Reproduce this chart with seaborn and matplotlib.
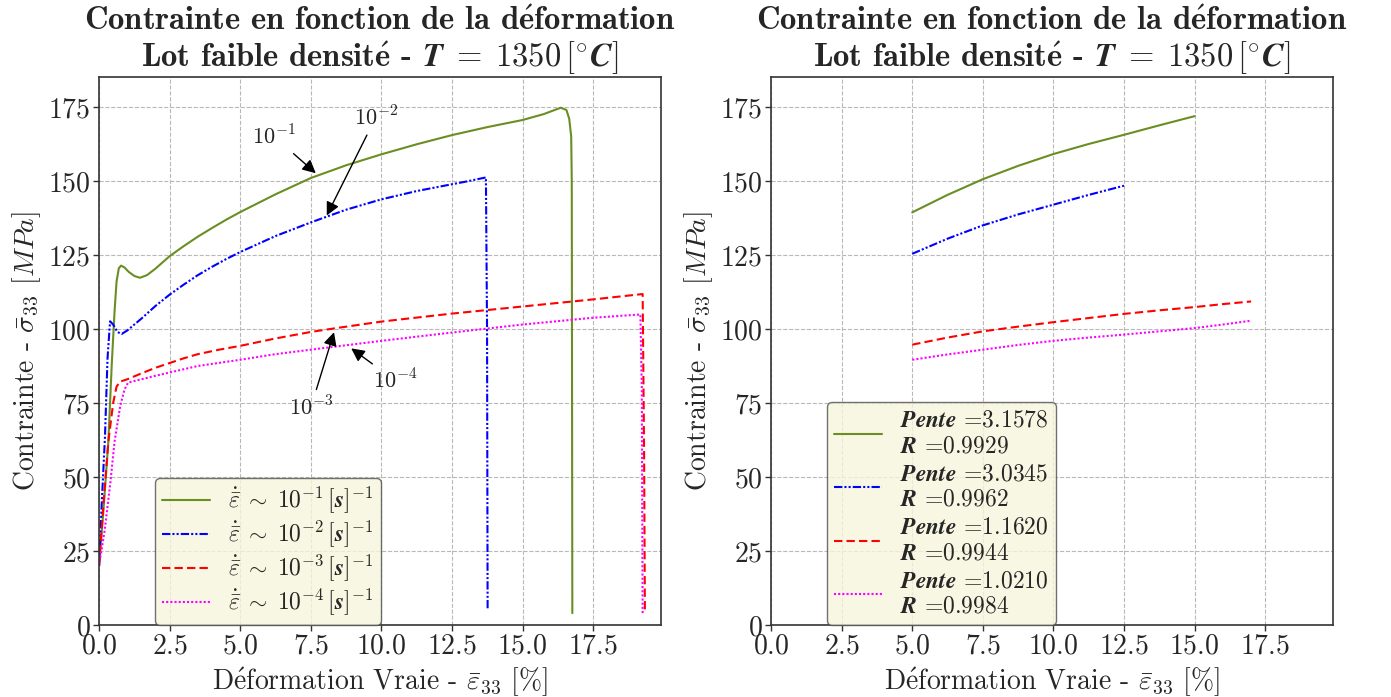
import numpy as np
import pandas as pd
import matplotlib
matplotlib.use("Agg")
import matplotlib.pyplot as plt
import seaborn as sns

# -------------------------
# Data
# -------------------------
# left panel: full stress-strain curves
x_r1 = [0, 0.15, 0.33, 0.45, 0.55, 0.62, 0.7, 0.78, 0.9, 1.05, 1.25, 1.45, 1.7, 2.0, 2.5, 3.0,
        3.5, 4.0, 4.5, 5, 6.25, 7.5, 8.75, 10, 11.25, 12.5, 13.75, 15, 15.75, 16.35, 16.55,
        16.65, 16.72, 16.74, 16.76]
y_r1 = [20, 38, 62, 88, 106, 116, 120.5, 121.4, 120.8, 119.3, 117.9, 117.3, 118.2, 120.4, 124.6,
        128.0, 131.2, 134.1, 136.9, 139.5, 145.5, 151, 155.3, 159, 162.4, 165.5, 168.2, 170.6,
        172.6, 174.75, 174, 171, 165, 150, 4]

x_r2 = [0, 0.1, 0.21, 0.3, 0.39, 0.5, 0.65, 0.8, 1.0, 1.5, 2.0, 2.5, 3.0, 3.5, 4.0, 4.5, 5,
        6.25, 7.5, 8.75, 10, 11.25, 12.5, 13.0, 13.7, 13.74, 13.76]
y_r2 = [20, 42, 63.6, 90, 102.6, 101.5, 99, 98.3, 99.5, 103.5, 107.8, 111.6, 115.0, 118.2, 121.0,
        123.6, 126, 131.4, 136, 140.3, 143.8, 146.6, 148.9, 149.8, 151.2, 100, 5]

x_r3 = [0, 0.15, 0.33, 0.5, 0.62, 0.74, 1.0, 1.5, 2.0, 2.5, 3.0, 3.5, 4.25, 5, 6.25, 7.5, 8.4,
        10, 12.5, 15, 17.5, 19.25, 19.3, 19.33]
y_r3 = [20, 40, 62, 75, 80.5, 82.2, 83, 85, 86.9, 88.5, 90.1, 91.5, 93.0, 94.3, 96.8, 99, 100.3,
        102.5, 105.2, 107.6, 110, 111.8, 60, 4]

x_r4 = [0, 0.2, 0.4, 0.55, 0.75, 0.9, 1.03, 1.5, 2.0, 2.5, 3.5, 5, 6.25, 7.5, 10, 12.5, 15,
        17.5, 19.17, 19.22, 19.25]
y_r4 = [20, 32, 48, 62, 74, 79.5, 81.9, 83, 84.2, 85.3, 87.5, 89.6, 91.5, 93, 96, 98.8, 101.5,
        103.8, 104.9, 80, 4]

# right panel: fitted portions
xf_r1 = [5, 6.25, 7.5, 8.75, 10, 11.25, 12.5, 13.75, 15]
yf_r1 = [139.4, 145.3, 150.6, 155.1, 159.1, 162.5, 165.6, 168.8, 171.9]
xf_r2 = [5, 6.25, 7.5, 8.75, 10, 11.25, 12.5]
yf_r2 = [125.4, 130.5, 135.0, 138.7, 142.0, 145.3, 148.4]
xf_r3 = [5, 6.25, 7.5, 8.75, 10, 11.25, 12.5, 13.75, 15, 16, 17]
yf_r3 = [94.7, 97.1, 99.2, 100.8, 102.3, 103.7, 105.1, 106.3, 107.4, 108.4, 109.3]
xf_r4 = [5, 6.25, 7.5, 8.75, 10, 11.25, 12.5, 13.75, 15, 16, 17]
yf_r4 = [89.6, 91.4, 93.0, 94.6, 96.0, 97.1, 98.1, 99.2, 100.3, 101.5, 102.8]

rates = ["-1", "-2", "-3", "-4"]
pentes = ["3.1578", "3.0345", "1.1620", "1.0210"]
r_vals = ["0.9929", "0.9962", "0.9944", "0.9984"]

colors = ["olivedrab", "blue", "red", "magenta"]
styles = ["-", (0, (4, 1, 1, 1, 1, 1)), (0, (4, 2)), (0, (1, 1))]

# -------------------------
# Style
# -------------------------
sns.set_style("whitegrid", {"grid.linestyle": "--", "grid.color": "#b8b8b8",
                            "axes.edgecolor": "0.2", "xtick.bottom": True, "ytick.left": True})
plt.rcParams["font.family"] = ["cmr10", "DejaVu Serif"]
plt.rcParams["mathtext.fontset"] = "cm"
plt.rcParams["axes.formatter.use_mathtext"] = True
plt.rcParams["axes.unicode_minus"] = False

fig = plt.figure(figsize=(13.91, 6.97), dpi=100)
ax1 = fig.add_axes([0.0712, 0.1033, 0.404, 0.7857])
ax2 = fig.add_axes([0.5543, 0.1033, 0.404, 0.7857])

# é drawn through mathtext accents (cmr10 has no é glyph)
title = (r"Contrainte en fonction de la d$\mathbf{\acute{e}}$formation" "\n"
         r"Lot faible densit$\mathbf{\acute{e}}$ - "
         r"$\boldsymbol{T}\;\mathbf{=}\;\mathbf{1350\,[^{\circ}}\boldsymbol{C}\mathbf{]}$")
xlab = r"D$\mathrm{\acute{e}}$formation Vraie - $\bar{\varepsilon}_{33}$ $[\%]$"
ylab = r"Contrainte - $\bar{\sigma}_{33}$ $[MPa]$"

left_sets = [(x_r1, y_r1), (x_r2, y_r2), (x_r3, y_r3), (x_r4, y_r4)]
for (xs, ys), c, ls, r in zip(left_sets, colors, styles, rates):
    lab = (r"$\boldsymbol{\dot{\bar{\varepsilon}}}\;\mathbf{\sim}\;\mathbf{10^{%s}\,[}"
           r"\boldsymbol{s}\mathbf{]^{-1}}$" % r)
    sns.lineplot(x=xs, y=ys, ax=ax1, color=c, linestyle=ls, lw=1.5,
                 sort=False, estimator=None, label=lab)

right_sets = [(xf_r1, yf_r1), (xf_r2, yf_r2), (xf_r3, yf_r3), (xf_r4, yf_r4)]
for (xs, ys), c, ls, p, rv in zip(right_sets, colors, styles, pentes, r_vals):
    lab = r"$\boldsymbol{Pente}$ =" + p + "\n" + r"$\boldsymbol{R}$ =" + rv
    sns.lineplot(x=xs, y=ys, ax=ax2, color=c, linestyle=ls, lw=1.5,
                 sort=False, estimator=None, label=lab)

# annotations on the left panel
arrow = dict(arrowstyle="-|>", color="black", lw=1.0, mutation_scale=20)
ax1.annotate(r"$10^{-1}$", xy=(7.75, 152), xytext=(6.2, 165), fontsize=16,
             ha="center", va="center", arrowprops=arrow)
ax1.annotate(r"$10^{-2}$", xy=(8.02, 137.5), xytext=(9.8, 171.5), fontsize=16,
             ha="center", va="center", arrowprops=arrow)
ax1.annotate(r"$10^{-3}$", xy=(8.35, 99.8), xytext=(7.5, 73.5), fontsize=16,
             ha="center", va="center", arrowprops=arrow)
ax1.annotate(r"$10^{-4}$", xy=(8.85, 94), xytext=(10.5, 82.5), fontsize=16,
             ha="center", va="center", arrowprops=arrow)

for ax in (ax1, ax2):
    ax.set_xlim(0, 19.9)
    ax.set_ylim(0, 185)
    ax.set_xticks(np.arange(0, 19, 2.5))
    ax.set_yticks(np.arange(0, 180, 25))
    ax.set_title(title, fontsize=23.5, fontweight="bold", family=["cmb10", "DejaVu Serif"],
                 pad=2, linespacing=1.15)
    ax.set_xlabel(xlab, fontsize=20)
    ax.set_ylabel(ylab, fontsize=20)
    ax.tick_params(labelsize=20, length=4, width=1, color="0.2", pad=2)
    for s in ax.spines.values():
        s.set_linewidth(1.2)

leg1 = ax1.legend(loc="lower left", bbox_to_anchor=(0.1, 0.0), borderaxespad=0,
                  fontsize=17, facecolor="beige", edgecolor="0.3", framealpha=0.8,
                  fancybox=True, labelspacing=0.12, borderpad=0.3)
leg2 = ax2.legend(loc="lower left", bbox_to_anchor=(0.1, 0.0), borderaxespad=0,
                  fontsize=17, facecolor="beige", edgecolor="0.3", framealpha=0.8,
                  fancybox=True, labelspacing=0.25, borderpad=0.3)
for leg in (leg1, leg2):
    leg.get_frame().set_linewidth(1.0)

fig.savefig("out.png", dpi=100)
